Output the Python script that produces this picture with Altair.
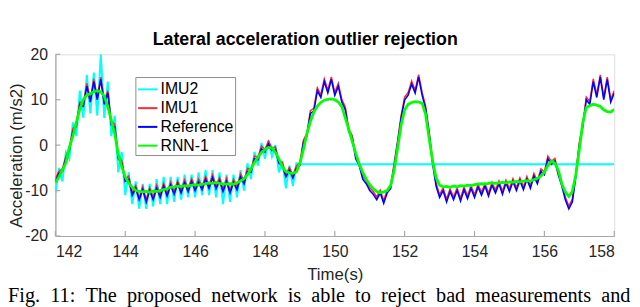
import altair as alt
import pandas as pd

# ---------------- data ----------------
time = [round(142 + 0.1 * i, 1) for i in range(161)]

rnn1 = [
    -8.3, -7.0, -5.5, -3.9, -0.5, 2.0, 5.0, 8.0, 10.0, 11.0,
    11.3, 11.8, 12.0, 11.7, 10.8, 8.5, 5.5, 2.5, -2.0, -4.8,
    -7.0, -8.3, -9.3, -10.0, -10.2, -10.3, -10.2, -10.4, -10.1, -10.2,
    -10.0, -9.8, -9.6, -9.3, -9.2, -9.0, -9.1, -8.9, -9.0, -8.8,
    -8.7, -8.8, -8.6, -8.5, -8.3, -8.4, -8.2, -8.4, -8.5, -8.6,
    -8.5, -8.6, -8.3, -7.9, -7.4, -6.5, -5.2, -3.8, -2.6, -1.6,
    -1.0, -0.5, -0.6, -1.6, -3.0, -4.8, -5.8, -6.1, -6.2, -5.9,
    -4.0, -1.0, 2.5, 5.2, 7.3, 8.6, 9.4, 9.9, 10.1, 10.2,
    10.0, 9.5, 8.5, 6.0, 3.5, 0.8, -1.8, -4.2, -6.0, -7.5,
    -8.7, -9.6, -10.2, -10.5, -10.3, -10.0, -8.8, -5.5, -0.5, 4.5,
    7.8, 9.0, 9.4, 9.6, 9.5, 9.2, 6.8, 1.5, -3.5, -7.2,
    -8.8, -9.2, -9.1, -9.3, -9.0, -9.2, -8.9, -9.0, -8.8, -8.9,
    -8.7, -8.6, -8.5, -8.6, -8.4, -8.3, -8.4, -8.3, -8.2, -8.3,
    -8.1, -8.2, -8.0, -8.1, -7.9, -7.8, -7.9, -7.6, -7.3, -6.8,
    -6.0, -4.5, -3.5, -4.0, -5.5, -8.5, -10.3, -11.3, -10.2, -6.5,
    -1.0, 5.0, 8.3, 8.7, 9.0, 8.8, 8.5, 7.8, 7.4, 7.3,
    7.9,
]

reference = [
    -8.0, -6.2, -5.8, -3.0, -1.2, 3.0, 4.2, 9.0, 8.5, 13.0,
    9.5, 14.0, 10.0, 14.5, 9.0, 11.5, 4.5, 4.0, -3.0, -4.0,
    -8.0, -7.5, -11.0, -9.5, -12.0, -9.8, -12.5, -10.0, -12.0, -9.5,
    -11.5, -9.0, -11.2, -8.8, -10.8, -8.5, -10.5, -8.3, -10.2, -8.0,
    -10.0, -8.2, -9.8, -7.5, -9.5, -7.2, -9.6, -7.8, -10.2, -8.0,
    -10.5, -8.2, -9.8, -7.0, -8.5, -5.8, -6.0, -3.0, -3.2, -0.8,
    -1.5, 0.3, -1.2, -1.0, -4.0, -4.5, -7.0, -5.5, -7.2, -5.2,
    -4.5, 0.5, 2.0, 7.0, 7.5, 12.0, 10.5, 14.0, 11.5, 14.5,
    11.0, 13.0, 9.5, 7.8, 3.0, 1.5, -3.0, -4.5, -7.5, -8.5,
    -10.0, -10.8, -12.0, -10.5, -12.8, -10.5, -9.5, -4.5, 0.5, 6.0,
    10.0, 11.0, 13.5, 11.5, 15.0, 11.0, 8.0, 2.5, -4.0, -9.0,
    -11.5, -10.0, -12.5, -10.2, -12.0, -10.0, -12.3, -9.8, -11.8, -9.5,
    -11.5, -9.2, -11.0, -9.0, -11.2, -8.8, -10.5, -8.5, -10.8, -8.3,
    -10.2, -8.0, -10.0, -7.8, -9.8, -7.5, -9.5, -6.8, -8.5, -5.8,
    -6.5, -3.0, -4.2, -3.5, -6.5, -9.0, -12.0, -14.0, -12.5, -7.0,
    0.0, 4.0, 10.0, 9.0, 14.0, 10.5, 15.0, 10.0, 14.5, 9.5,
    11.5,
]

imu1 = [
    -7.4, -5.8, -5.2, -2.5, -0.6, 3.6, 4.8, 9.5, 9.2, 13.6,
    10.0, 14.6, 10.6, 15.0, 9.6, 12.0, 5.2, 4.6, -2.4, -3.4,
    -7.4, -6.8, -10.4, -8.9, -11.5, -9.1, -11.9, -9.4, -11.4, -8.8,
    -10.9, -8.4, -10.6, -8.1, -10.2, -7.9, -9.9, -7.6, -9.6, -7.4,
    -9.4, -7.5, -9.2, -6.9, -8.9, -6.5, -9.0, -7.1, -9.6, -7.3,
    -9.9, -7.5, -9.2, -6.3, -7.9, -5.1, -5.4, -2.4, -2.6, -0.2,
    -0.9, 0.9, -0.6, -0.4, -3.4, -3.8, -6.4, -4.9, -6.6, -4.6,
    -3.9, 1.1, 2.6, 7.6, 8.1, 12.6, 11.1, 14.6, 12.1, 15.0,
    11.6, 13.6, 10.1, 8.4, 3.6, 2.1, -2.4, -3.9, -6.9, -7.9,
    -9.4, -10.2, -11.4, -9.9, -12.2, -9.9, -8.9, -3.9, 1.1, 6.6,
    10.6, 11.6, 14.1, 12.1, 15.5, 11.6, 8.6, 3.1, -3.4, -8.4,
    -10.9, -9.4, -11.9, -9.6, -11.4, -9.4, -11.7, -9.2, -11.2, -8.9,
    -10.9, -8.6, -10.4, -8.4, -10.6, -8.2, -9.9, -7.9, -10.2, -7.7,
    -9.6, -7.4, -9.4, -7.2, -9.2, -6.9, -8.9, -6.2, -7.9, -5.2,
    -5.9, -2.4, -3.6, -2.9, -5.9, -8.4, -11.4, -13.4, -11.9, -6.4,
    0.6, 4.6, 10.6, 9.6, 14.6, 11.1, 15.5, 10.6, 15.0, 10.1,
    12.0,
]

imu2_time = time[:71] + [158.0]
imu2 = [
    -10.5, -5.0, -8.0, -1.5, -3.0, 5.0, 2.0, 12.0, 6.0, 15.5,
    7.0, 16.0, 6.5, 20.0, 6.0, 14.0, 2.0, 6.5, -6.0, -1.5,
    -11.0, -6.0, -13.0, -8.0, -14.0, -8.5, -14.0, -8.5, -13.5, -7.5,
    -13.0, -7.0, -13.0, -7.0, -12.5, -7.0, -12.0, -6.5, -11.5, -6.5,
    -11.5, -6.0, -11.0, -5.5, -11.0, -5.5, -11.5, -6.0, -13.0, -6.5,
    -12.5, -6.5, -11.5, -5.5, -10.0, -4.0, -7.5, -1.5, -4.5, 0.5,
    -3.0, 1.0, -2.5, 0.0, -6.0, -3.5, -9.5, -4.5, -9.0, -4.0,
    -4.2,
    -4.2,
]

series_order = ["IMU2", "IMU1", "Reference", "RNN-1"]
series_colors = ["#00FFFF", "#FF2A2A", "#0000FF", "#00FF00"]
series_widths = [2.0, 1.5, 1.6, 2.8]
x_ticks = [142, 144, 146, 148, 150, 152, 154, 156, 158]
y_ticks = [-20, -10, 0, 10, 20]

chart_title = "Lateral acceleration outlier rejection"
x_title = "Time(s)"
y_title = "Acceleration (m/s2)"
caption_words = ["Fig.", "11:", "The", "proposed", "network", "is", "able", "to",
                 "reject", "bad", "measurements", "and"]
caption = " \u00a0".join(caption_words)

# ---------------- chart ----------------
W, H = 566, 184
AXIS_GRAY = "#a8a8a8"
TEXT = "#262626"
FONT = "Liberation Sans"

frames = {
    "IMU2": pd.DataFrame({"t": imu2_time, "v": imu2, "series": "IMU2"}),
    "IMU1": pd.DataFrame({"t": time, "v": imu1, "series": "IMU1"}),
    "Reference": pd.DataFrame({"t": time, "v": reference, "series": "Reference"}),
    "RNN-1": pd.DataFrame({"t": time, "v": rnn1, "series": "RNN-1"}),
}

x_scale = alt.Scale(domain=[142, 158], nice=False, zero=False)
y_scale = alt.Scale(domain=[-20, 20], nice=False)
color_scale = alt.Scale(domain=series_order, range=series_colors)

x_axis = alt.Axis(
    values=x_ticks, ticks=False, tickSize=0, grid=False,
    labelFontSize=16, labelFont=FONT, labelColor=TEXT, labelPadding=8,
    domainColor=AXIS_GRAY, domainWidth=1.2,
    title=x_title, titleFontSize=17, titleFont=FONT, titleFontWeight="normal",
    titleColor=TEXT, titleBaseline="alphabetic", titleY=44,
)
y_axis = alt.Axis(
    values=y_ticks, ticks=False, tickSize=0, grid=False,
    labelFontSize=16, labelFont=FONT, labelColor=TEXT, labelPadding=8,
    labelExpr="datum.value + ''",
    domainColor=AXIS_GRAY, domainWidth=1.2,
    title=y_title, titleFontSize=17, titleFont=FONT, titleFontWeight="normal",
    titleColor=TEXT, titleBaseline="alphabetic", titleX=-34, titleY=102,
    titleAngle=270,
)

legend = alt.Legend(
    title=None, orient="none", legendX=81, legendY=23,
    symbolType="stroke", symbolSize=380, symbolStrokeWidth=2,
    labelFontSize=16, labelFont=FONT, labelColor="black", labelOffset=2,
    labelExpr="datum.label + '\u00a0'",
    strokeColor="#8c8c8c", fillColor="white", padding=1.5, rowPadding=0,
    symbolOffset=0,
)

X = alt.X("t:Q", scale=x_scale, axis=x_axis)
Y = alt.Y("v:Q", scale=y_scale, axis=y_axis)

layers = []
for i, name in enumerate(series_order):
    layers.append(
        alt.Chart(frames[name]).mark_line(strokeWidth=series_widths[i], clip=True).encode(
            x=X, y=Y,
            color=alt.Color("series:N", scale=color_scale, legend=legend),
        )
    )

xt = alt.Chart(pd.DataFrame({"t": x_ticks})).mark_rule(color=AXIS_GRAY, strokeWidth=1.2).encode(
    x=X, y=alt.value(H), y2=alt.value(H - 5)
)
yt = alt.Chart(pd.DataFrame({"v": y_ticks})).mark_rule(color=AXIS_GRAY, strokeWidth=1.2).encode(
    y=Y, x=alt.value(0), x2=alt.value(5)
)
cap = alt.Chart(pd.DataFrame({"c": [caption]})).mark_text(
    align="left", baseline="alphabetic", font="Liberation Serif", fontSize=20.5, color="black"
).encode(text="c:N", x=alt.value(-48), y=alt.value(251))

chart = alt.layer(*layers, xt, yt, cap).properties(
    width=W, height=H,
    title=alt.TitleParams(
        chart_title, fontSize=18, fontWeight="bold", font=FONT, color="black",
        anchor="middle", frame="group", dx=-30, dy=7, offset=4,
    ),
    autosize=alt.AutoSizeParams(type="none"),
    padding={"left": 48, "top": 45, "right": 18, "bottom": 70},
).configure_view(stroke=None).configure(background="white")

chart.save("out.html", embed_options={"renderer": "svg", "actions": False})
